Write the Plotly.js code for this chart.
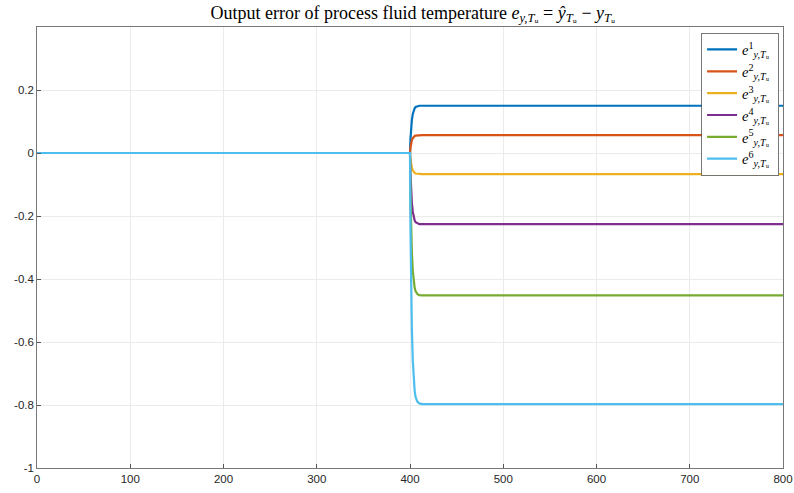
<!DOCTYPE html>
<html><head><meta charset="utf-8">
<script src="https://cdn.plot.ly/plotly-3.0.1.min.js"></script>
<style>body{margin:0;background:#fff}#g{width:794px;height:493px}</style>
</head><body><div id="g"></div>
<script>
const t  = [0, 400, 400.5, 401, 401.5, 402, 403, 404, 405, 406, 408, 410, 413, 800];
const e1 = [0, 0, 0.045, 0.072, 0.090, 0.105, 0.124, 0.136, 0.142, 0.146, 0.149, 0.150, 0.150, 0.150];
const e2 = [0, 0, 0.017, 0.027, 0.034, 0.040, 0.047, 0.052, 0.054, 0.055, 0.056, 0.057, 0.057, 0.057];
const e3 = [0, 0, -0.020, -0.032, -0.040, -0.047, -0.055, -0.061, -0.063, -0.065, -0.066, -0.067, -0.067, -0.067];
const e4 = [0, 0, -0.068, -0.109, -0.136, -0.158, -0.187, -0.205, -0.214, -0.220, -0.224, -0.226, -0.226, -0.226];
const e5 = [0, 0, -0.136, -0.217, -0.271, -0.316, -0.374, -0.410, -0.428, -0.439, -0.448, -0.451, -0.452, -0.452];
const e6 = [0, 0, -0.240, -0.383, -0.478, -0.557, -0.660, -0.723, -0.755, -0.775, -0.790, -0.795, -0.797, -0.797];
const series = [e1, e2, e3, e4, e5, e6];
const names = [1,2,3,4,5,6].map(k => '<i>e</i><sup>' + k + '</sup><sub><i>y,T</i>ᵤ</sub>\u00a0');
const colors = ['#0072BD','#D95319','#EDB120','#7E2F8E','#77AC30','#4DBEEE'];
const xticks = [0,100,200,300,400,500,600,700,800];
const yticks = [-1,-0.8,-0.6,-0.4,-0.2,0,0.2];

const data = series.map((s,i) => ({
  x: t, y: s, type: 'scatter', mode: 'lines', name: names[i],
  line: {color: colors[i], width: 2.2, shape: 'linear'}
}));

const ax = {
  showline: true, mirror: true, linecolor: '#555', linewidth: 0.8,
  ticks: 'inside', ticklen: 4, tickcolor: '#555',
  showgrid: true, gridcolor: '#ebebeb', zeroline: false,
  tickfont: {family: 'Liberation Sans, Arial, sans-serif', size: 11.5, color: '#262626'}
};

const layout = {
  width: 794, height: 493,
  margin: {l: 37, r: 11, t: 27, b: 25},
  paper_bgcolor: '#fff', plot_bgcolor: '#fff',
  title: {text: 'Output error of process fluid temperature <i>e</i><sub><i>y,T</i>ᵤ</sub> = <i>ŷ</i><sub><i>T</i>ᵤ</sub> − <i>y</i><sub><i>T</i>ᵤ</sub>',
    font: {family: 'Liberation Serif, DejaVu Serif, serif', size: 18, color: '#000'},
    x: 0.52, xanchor: 'center', y: 0.975, yanchor: 'middle'},
  xaxis: Object.assign({}, ax, {range: [0, 800], tickvals: xticks, ticktext: xticks.map(String)}),
  yaxis: Object.assign({}, ax, {range: [-1, 0.4], tickvals: yticks, ticktext: yticks.map(String)}),
  showlegend: true,
  legend: {x: 0.995, y: 0.987, xanchor: 'right', yanchor: 'top',
    bgcolor: '#fff', bordercolor: '#555', borderwidth: 0.8,
    font: {family: 'Liberation Serif, DejaVu Serif, serif', size: 14.5, color: '#000'},
    tracegroupgap: 0, itemwidth: 30}
};
Plotly.newPlot('g', data, layout, {displayModeBar: false, staticPlot: true});
</script></body></html>
